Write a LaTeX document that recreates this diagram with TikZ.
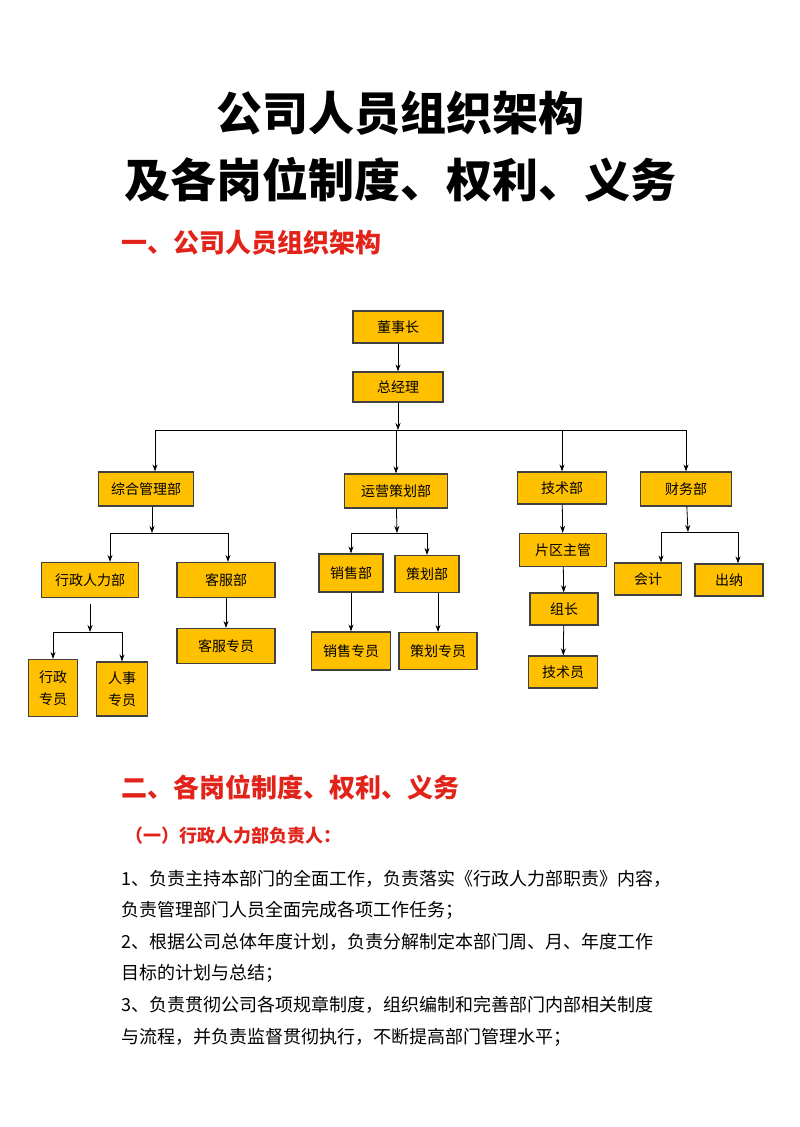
\documentclass[tikz,border=0pt]{standalone}
\usepackage{fontspec}
\newfontfamily\cjk{Noto Sans CJK SC}
\usetikzlibrary{arrows.meta}
\definecolor{boxfill}{HTML}{FFC000}
\definecolor{headred}{HTML}{E2231A}
\tikzset{
  box/.style={draw=black!75, line width=1.2pt, fill=boxfill, inner sep=0pt, font=\cjk\fontsize{14}{18}\selectfont, align=center},
  arr/.style={-{Stealth[length=7pt,width=5pt]}, line width=0.8pt},
  bus/.style={line width=0.8pt},
  body/.style={anchor=west, font=\cjk\fontsize{18}{22}\selectfont}
}
\begin{document}
\begin{tikzpicture}[x=1pt,y=-1pt]
\useasboundingbox (0,0) rectangle (800,1127);
% titles
\node (t1) at (400,113) {\cjk\bfseries\fontsize{46}{50}\selectfont 公司人员组织架构};
\node (t2) at (400,180) {\cjk\bfseries\fontsize{46}{50}\selectfont 及各岗位制度、权利、义务};
\node[anchor=west,text=headred] (h1) at (118,243) {\cjk\bfseries\fontsize{26}{30}\selectfont 一、公司人员组织架构};
% chart boxes
\node[box,minimum width=90pt,minimum height=32pt] (dsz) at (398,327) {董事长};
\node[box,minimum width=90pt,minimum height=30pt] (zjl) at (398,387) {总经理};
\node[box,minimum width=95pt,minimum height=34pt] (zh) at (146,489) {综合管理部};
\node[box,minimum width=103pt,minimum height=34pt] (yy) at (396,491) {运营策划部};
\node[box,minimum width=89pt,minimum height=32pt] (js) at (562,488) {技术部};
\node[box,minimum width=91pt,minimum height=34pt] (cw) at (686,489) {财务部};
\node[box,minimum width=97pt,minimum height=35pt] (xz) at (90,580) {行政人力部};
\node[box,minimum width=98pt,minimum height=35pt] (kf) at (226,580) {客服部};
\node[box,minimum width=49pt,minimum height=57pt] (xzzy) at (53,688) {行政\\[4pt]专员};
\node[box,minimum width=51pt,minimum height=54pt] (rszy) at (122,689) {人事\\[4pt]专员};
\node[box,minimum width=98pt,minimum height=35pt] (kfzy) at (226,646) {客服专员};
\node[box,minimum width=64pt,minimum height=38pt] (xs) at (351,573) {销售部};
\node[box,minimum width=64pt,minimum height=37pt] (ch) at (427,574) {策划部};
\node[box,minimum width=79pt,minimum height=38pt] (xszy) at (351,651) {销售专员};
\node[box,minimum width=78pt,minimum height=37pt] (chzy) at (438,651) {策划专员};
\node[box,minimum width=87pt,minimum height=33pt] (pq) at (563,550) {片区主管};
\node[box,minimum width=68pt,minimum height=32pt] (zz) at (564,609) {组长};
\node[box,minimum width=69pt,minimum height=32pt] (jsy) at (563,672) {技术员};
\node[box,minimum width=67pt,minimum height=32pt] (kj) at (648,579) {会计};
\node[box,minimum width=68pt,minimum height=32pt] (cn) at (729,580) {出纳};
% bus points
\coordinate (b0) at (398,430);
\coordinate (b1) at (152,533);
\coordinate (b2) at (397,533);
\coordinate (b3) at (688,532);
\coordinate (b4) at (90,632);
% connectors
\draw[arr] (dsz) -- (zjl);
\draw[arr] (zjl) -- (b0);
\draw[bus] ([xshift=9pt]zh.north |- b0) -- (cw.north |- b0);
\foreach \n/\dx in {zh/9,yy/0,js/0,cw/0}
  \draw[arr] ([xshift=\dx pt]\n.north |- b0) -- ([xshift=\dx pt]\n.north);
\draw[arr] (zh.south -| b1) -- (b1);
\draw[bus] ([xshift=-42pt]b1) -- ([xshift=76pt]b1);
\draw[arr] ([xshift=-42pt]b1) -- ([xshift=-42pt]b1 |- xz.north);
\draw[arr] ([xshift=76pt]b1) -- ([xshift=76pt]b1 |- kf.north);
\draw[arr] (yy) -- (b2);
\draw[bus] (xs.north |- b2) -- (ch.north |- b2);
\foreach \n in {xs,ch}
  \draw[arr] (\n.north |- b2) -- (\n);
\draw[arr] (cw) -- (b3);
\draw[bus] ([xshift=-27pt]b3) -- ([xshift=50pt]b3);
\draw[arr] ([xshift=-27pt]b3) -- ([xshift=-27pt]b3 |- kj.north);
\draw[arr] ([xshift=50pt]b3) -- ([xshift=50pt]b3 |- cn.north);
\draw[arr] ([yshift=-6pt]xz.south -| b4) -- (b4);
\draw[bus] (xzzy.north |- b4) -- (rszy.north |- b4);
\foreach \n in {xzzy,rszy}
  \draw[arr] (\n.north |- b4) -- (\n);
\draw[arr] (kf) -- (kfzy);
\draw[arr] (xs) -- (xszy);
\draw[arr] (ch.south -| chzy) -- (chzy);
\draw[arr] (js) -- (pq);
\draw[arr] (pq) -- (zz);
\draw[arr] (zz) -- (jsy);
% section two
\node[anchor=west,text=headred] (h2) at (118,787) {\cjk\bfseries\fontsize{26}{30}\selectfont 二、各岗位制度、权利、义务};
\node[anchor=west,text=headred] (h3) at (122,836) {\cjk\bfseries\fontsize{18}{22}\selectfont （一）行政人力部负责人：};
\node[body] (l1) at (118,879) {1、负责主持本部门的全面工作，负责落实《行政人力部职责》内容，};
\node[body] (l2) at (118,910) {负责管理部门人员全面完成各项工作任务；};
\node[body] (l3) at (118,942) {2、根据公司总体年度计划，负责分解制定本部门周、月、年度工作};
\node[body] (l4) at (118,973) {目标的计划与总结；};
\node[body] (l5) at (118,1005) {3、负责贯彻公司各项规章制度，组织编制和完善部门内部相关制度};
\node[body] (l6) at (118,1037) {与流程，并负责监督贯彻执行，不断提高部门管理水平；};
\end{tikzpicture}
\end{document}
